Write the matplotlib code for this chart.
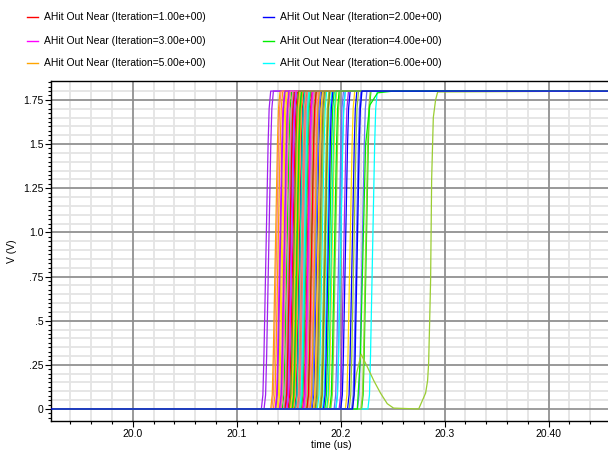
import numpy as np
import matplotlib.pyplot as plt
from matplotlib.lines import Line2D
from matplotlib.ticker import MultipleLocator, FixedLocator

FONT = ['Liberation Sans Narrow', 'Liberation Sans', 'DejaVu Sans']

# waveform palette, cycled over the iterations
palette = ['#ff0000', '#0000ff', '#ff00ff', '#00ee00', '#ffa500', '#00ffff',
           '#a020f0', '#9acd32', '#fa8072', '#6a6aff', '#ffd700', '#ff69b4',
           '#00fa9a', '#6b8e23']

# 0.9 V crossing time of every iteration (us), in iteration order
edge_times = [
    20.1603, 20.2159, 20.1805, 20.2246, 20.1372, 20.2307, 20.1282, 20.1950,
    20.1565, 20.2207, 20.1443, 20.1744, 20.1500, 20.1667, 20.1468, 20.2111,
    20.1414, 20.1484, 20.1854, 20.1821, 20.1308, 20.2127, 20.1731, 20.1998,
    20.1918, 20.1590, 20.1552, 20.1629, 20.1539, 20.2046, 20.1642, 20.1893,
    20.1398, 20.1526, 20.2030, 20.1706, 20.1789, 20.1693, 20.1430, 20.1616,
    20.1757, 20.1577, 20.1680, 20.1773, 20.1455, 20.1719, 20.1654, 20.1870,
    20.1516, 20.1841, 20.1382, 20.1982, 20.2090, 20.1495, 20.1660, 20.1800,
    20.1720, 20.1608, 20.1530, 20.1940, 20.1590, 20.2000, 20.1460, 20.2240,
    20.1640, 20.1760, 20.1560, 20.1700, 20.1610, 20.1850, 20.1510, 20.1880,
    20.1685, 20.1580, 20.1750, 20.1650, 20.1420, 20.1810, 20.1625, 20.2150,
    20.1780, 20.1470, 20.1910, 20.1550,
]

# shape of one rising edge around its crossing time
edge_dt = [-0.0045, -0.003, -0.002, -0.001, 0.0, 0.001, 0.002, 0.003, 0.0045]
edge_v = [0.0, 0.08, 0.3, 0.6, 0.9, 1.2, 1.5, 1.7, 1.8]

# the slow-settling green trace
slow_t = [20.216, 20.219, 20.2215, 20.224, 20.228, 20.2355, 20.251]
slow_v = [0.0, 0.3, 0.9, 1.5, 1.72, 1.79, 1.8]

# the trace with the glitch
glitch_t = [20.2113, 20.2152, 20.2197, 20.2255, 20.2319, 20.2383, 20.2448,
            20.2509, 20.2750, 20.2817, 20.2836, 20.2846, 20.2856, 20.2865,
            20.2875, 20.2891, 20.2913, 20.2933]
glitch_v = [0.0, 0.2, 0.31, 0.24, 0.16, 0.09, 0.03, 0.005, 0.0, 0.09, 0.16,
            0.26, 0.5, 0.73, 1.3, 1.65, 1.75, 1.795]

legend_labels = ['AHit Out Near (Iteration=%.2fe+00)' % i for i in range(1, 7)]

xmin, xmax = 19.9214, 20.46
ymin, ymax = -0.068, 1.857
vhigh = 1.8

fig = plt.figure(figsize=(6.08, 4.61), dpi=100)
ax = fig.add_axes([51 / 608, 40 / 461, 560 / 608, 340 / 461])
ax.set_xlim(xmin, xmax)
ax.set_ylim(ymin, ymax)

# grid: light every 0.02 us / 0.05 V, dark on the labelled ticks
for x in np.arange(19.94, 20.47, 0.02):
    ax.axvline(x, color='#e4e4e4', lw=1.3, zorder=0)
for y in np.arange(0.05, 1.85, 0.05):
    ax.axhline(y, color='#e4e4e4', lw=1.3, zorder=0)
for x in [20.0, 20.1, 20.2, 20.3, 20.4]:
    ax.axvline(x, color='#8c8c8c', lw=1.2, zorder=0.5)
for y in np.arange(0, 1.8, 0.25):
    ax.axhline(y, color='#8c8c8c', lw=1.2, zorder=0.5)


def edge_curve(tc):
    t = [xmin] + [tc + d for d in edge_dt] + [xmax]
    v = [0.0] + edge_v + [vhigh]
    return t, v


last = None
for i, tc in enumerate(edge_times):
    t, v = edge_curve(tc)
    if i == 1:
        last = (t, v)
        continue
    ax.plot(t, v, color=palette[i % len(palette)], lw=0.9, zorder=2)

ax.plot([xmin] + slow_t + [xmax], [0.0] + slow_v + [vhigh],
        color=palette[3], lw=0.9, zorder=2)
ax.plot([xmin] + glitch_t + [xmax], [0.0] + glitch_v + [vhigh],
        color=palette[7], lw=0.9, zorder=2)
# iteration 2 ends up drawn on top
ax.plot(last[0], last[1], color=palette[1], lw=1.0, zorder=3)

for s in ['right']:
    ax.spines[s].set_visible(False)
for s in ['left', 'bottom', 'top']:
    ax.spines[s].set_color('black')
    ax.spines[s].set_linewidth(1.0)

ax.xaxis.set_major_locator(FixedLocator([20.0, 20.1, 20.2, 20.3, 20.4]))
ax.set_xticklabels(['20.0', '20.1', '20.2', '20.3', '20.40'])
ax.xaxis.set_minor_locator(MultipleLocator(0.02))
ax.yaxis.set_major_locator(FixedLocator([0, 0.25, 0.5, 0.75, 1.0, 1.25, 1.5, 1.75]))
ax.set_yticklabels(['0', '.25', '.5', '.75', '1.0', '1.25', '1.5', '1.75'])
ax.yaxis.set_minor_locator(MultipleLocator(0.025))
ax.tick_params(which='major', direction='out', length=4, width=0.8,
               labelsize=7.5, pad=1.5)
ax.tick_params(which='minor', direction='out', length=2.5, width=0.8)
for lab in ax.get_xticklabels() + ax.get_yticklabels():
    lab.set_family(FONT)

ax.set_xlabel('time (us)', fontsize=7.5, family=FONT, labelpad=1)
ax.set_ylabel('V (V)', fontsize=7.5, family=FONT, labelpad=4)

# legend above the plot, two columns
rows_y = [17, 41, 63]
cols_x = [27, 263]
for k, lab in enumerate(legend_labels):
    cx = cols_x[k % 2]
    ry = 1 - rows_y[k // 2] / 461
    fig.add_artist(Line2D([cx / 608, (cx + 11) / 608], [ry, ry],
                          color=palette[k], lw=1.0))
    fig.text((cx + 17) / 608, ry, lab, fontsize=7.5, family=FONT,
             va='center', ha='left')

fig.savefig('out.png', dpi=100)
